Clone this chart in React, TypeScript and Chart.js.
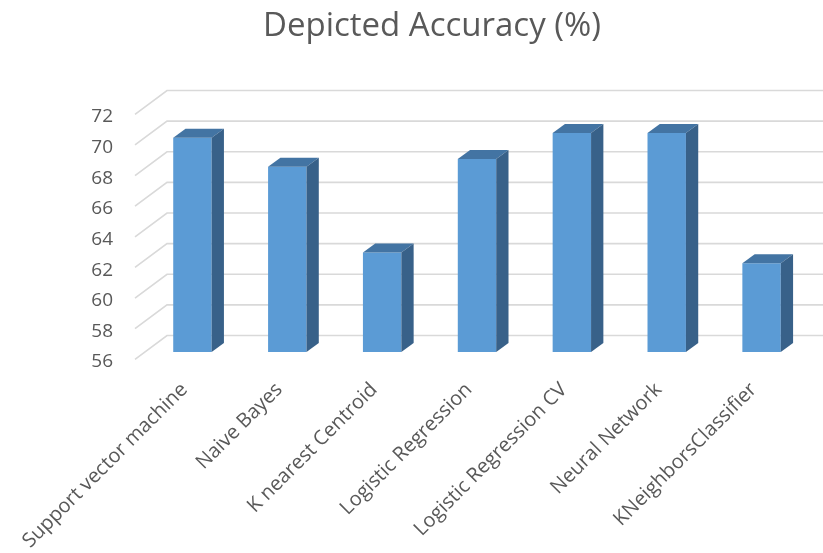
import React, { useEffect, useRef } from "react";
import { Chart, registerables } from "chart.js";

Chart.register(...registerables);

const categories = [
  "Support vector machine",
  "Naive Bayes",
  "K nearest Centroid",
  "Logistic Regression",
  "Logistic Regression CV",
  "Neural Network",
  "KNeighborsClassifier",
];
const accuracy = [70.0, 68.1, 62.5, 68.6, 70.3, 70.3, 61.8];
const yTicks = [56, 58, 60, 62, 64, 66, 68, 70, 72];
const chartTitle = "Depicted Accuracy (%)";

const W = 823;
const H = 553;
const FONT = "'Open Sans', 'DejaVu Sans', sans-serif";
const TEXT = "#595959";

const threeD = {
  id: "threeD",
  beforeDatasetsDraw(chart: any) {
    const { ctx, chartArea, scales } = chart;
    const y = scales.y;
    ctx.save();
    ctx.strokeStyle = "#d9d9d9";
    ctx.lineWidth = 1.6;
    for (const v of yTicks) {
      const py = y.getPixelForValue(v);
      ctx.beginPath();
      ctx.moveTo(chartArea.left - 10, py + 7.3);
      ctx.lineTo(chartArea.left + 22, py - 16.5);
      ctx.lineTo(chart.width, py - 16.5);
      ctx.stroke();
    }
    ctx.restore();
  },
  afterDatasetsDraw(chart: any) {
    const { ctx, chartArea } = chart;
    const DX = 12.3;
    const DY = 9;
    const meta = chart.getDatasetMeta(0);
    ctx.save();
    meta.data.forEach((bar: any) => {
      const { x, y, base, width } = bar.getProps(["x", "y", "base", "width"], true);
      const b = Math.min(base, chartArea.bottom);
      const l = x - width / 2;
      const r = x + width / 2;
      ctx.fillStyle = "#4374a3";
      ctx.beginPath();
      ctx.moveTo(l, y);
      ctx.lineTo(l + DX, y - DY);
      ctx.lineTo(r + DX, y - DY);
      ctx.lineTo(r, y);
      ctx.closePath();
      ctx.fill();
      ctx.fillStyle = "#386189";
      ctx.beginPath();
      ctx.moveTo(r, y);
      ctx.lineTo(r + DX, y - DY);
      ctx.lineTo(r + DX, b - DY);
      ctx.lineTo(r, b);
      ctx.closePath();
      ctx.fill();
    });
    ctx.restore();
  },
};

export default function App() {
  const ref = useRef<HTMLCanvasElement>(null);
  useEffect(() => {
    if (!ref.current) return;
    const chart = new Chart(ref.current, {
      type: "bar",
      data: {
        labels: categories,
        datasets: [
          {
            label: "Accuracy",
            data: accuracy,
            base: 56,
            backgroundColor: "#5b9bd5",
            borderWidth: 0,
            barPercentage: 0.405,
            categoryPercentage: 1,
          },
        ],
      },
      options: {
        responsive: false,
        animation: false,
        devicePixelRatio: 1,
        layout: { padding: { left: 55, right: 14, top: 0, bottom: 0 } },
        plugins: {
          legend: { display: false },
          tooltip: { enabled: false },
          title: {
            display: true,
            text: chartTitle,
            color: TEXT,
            font: { family: FONT, size: 33, weight: "normal", lineHeight: 1.2 },
            padding: { top: 7, bottom: 60.4 },
          },
        },
        scales: {
          x: {
            grid: { display: false, drawTicks: false },
            border: { display: false },
            ticks: {
              color: TEXT,
              font: { family: FONT, size: 20 },
              minRotation: 45,
              maxRotation: 45,
              padding: 26,
              labelOffset: -8,
              autoSkip: false,
            },
            afterFit(scale: any) {
              scale.height = 201;
              scale.paddingLeft = 0;
              scale.paddingRight = 0;
            },
          },
          y: {
            min: 56,
            max: 72,
            grid: { display: false, drawTicks: false },
            border: { display: false },
            ticks: {
              stepSize: 2,
              color: TEXT,
              font: { family: FONT, size: 19 },
              padding: 32,
              labelOffset: 10,
            },
            afterFit(scale: any) {
              scale.width = 90;
            },
          },
        },
      },
      plugins: [threeD],
    });
    return () => chart.destroy();
  }, []);
  return (
    <div style={{ position: "fixed", left: 0, top: 0, width: W, height: H, background: "#fff" }}>
      <canvas ref={ref} width={W} height={H} />
    </div>
  );
}
